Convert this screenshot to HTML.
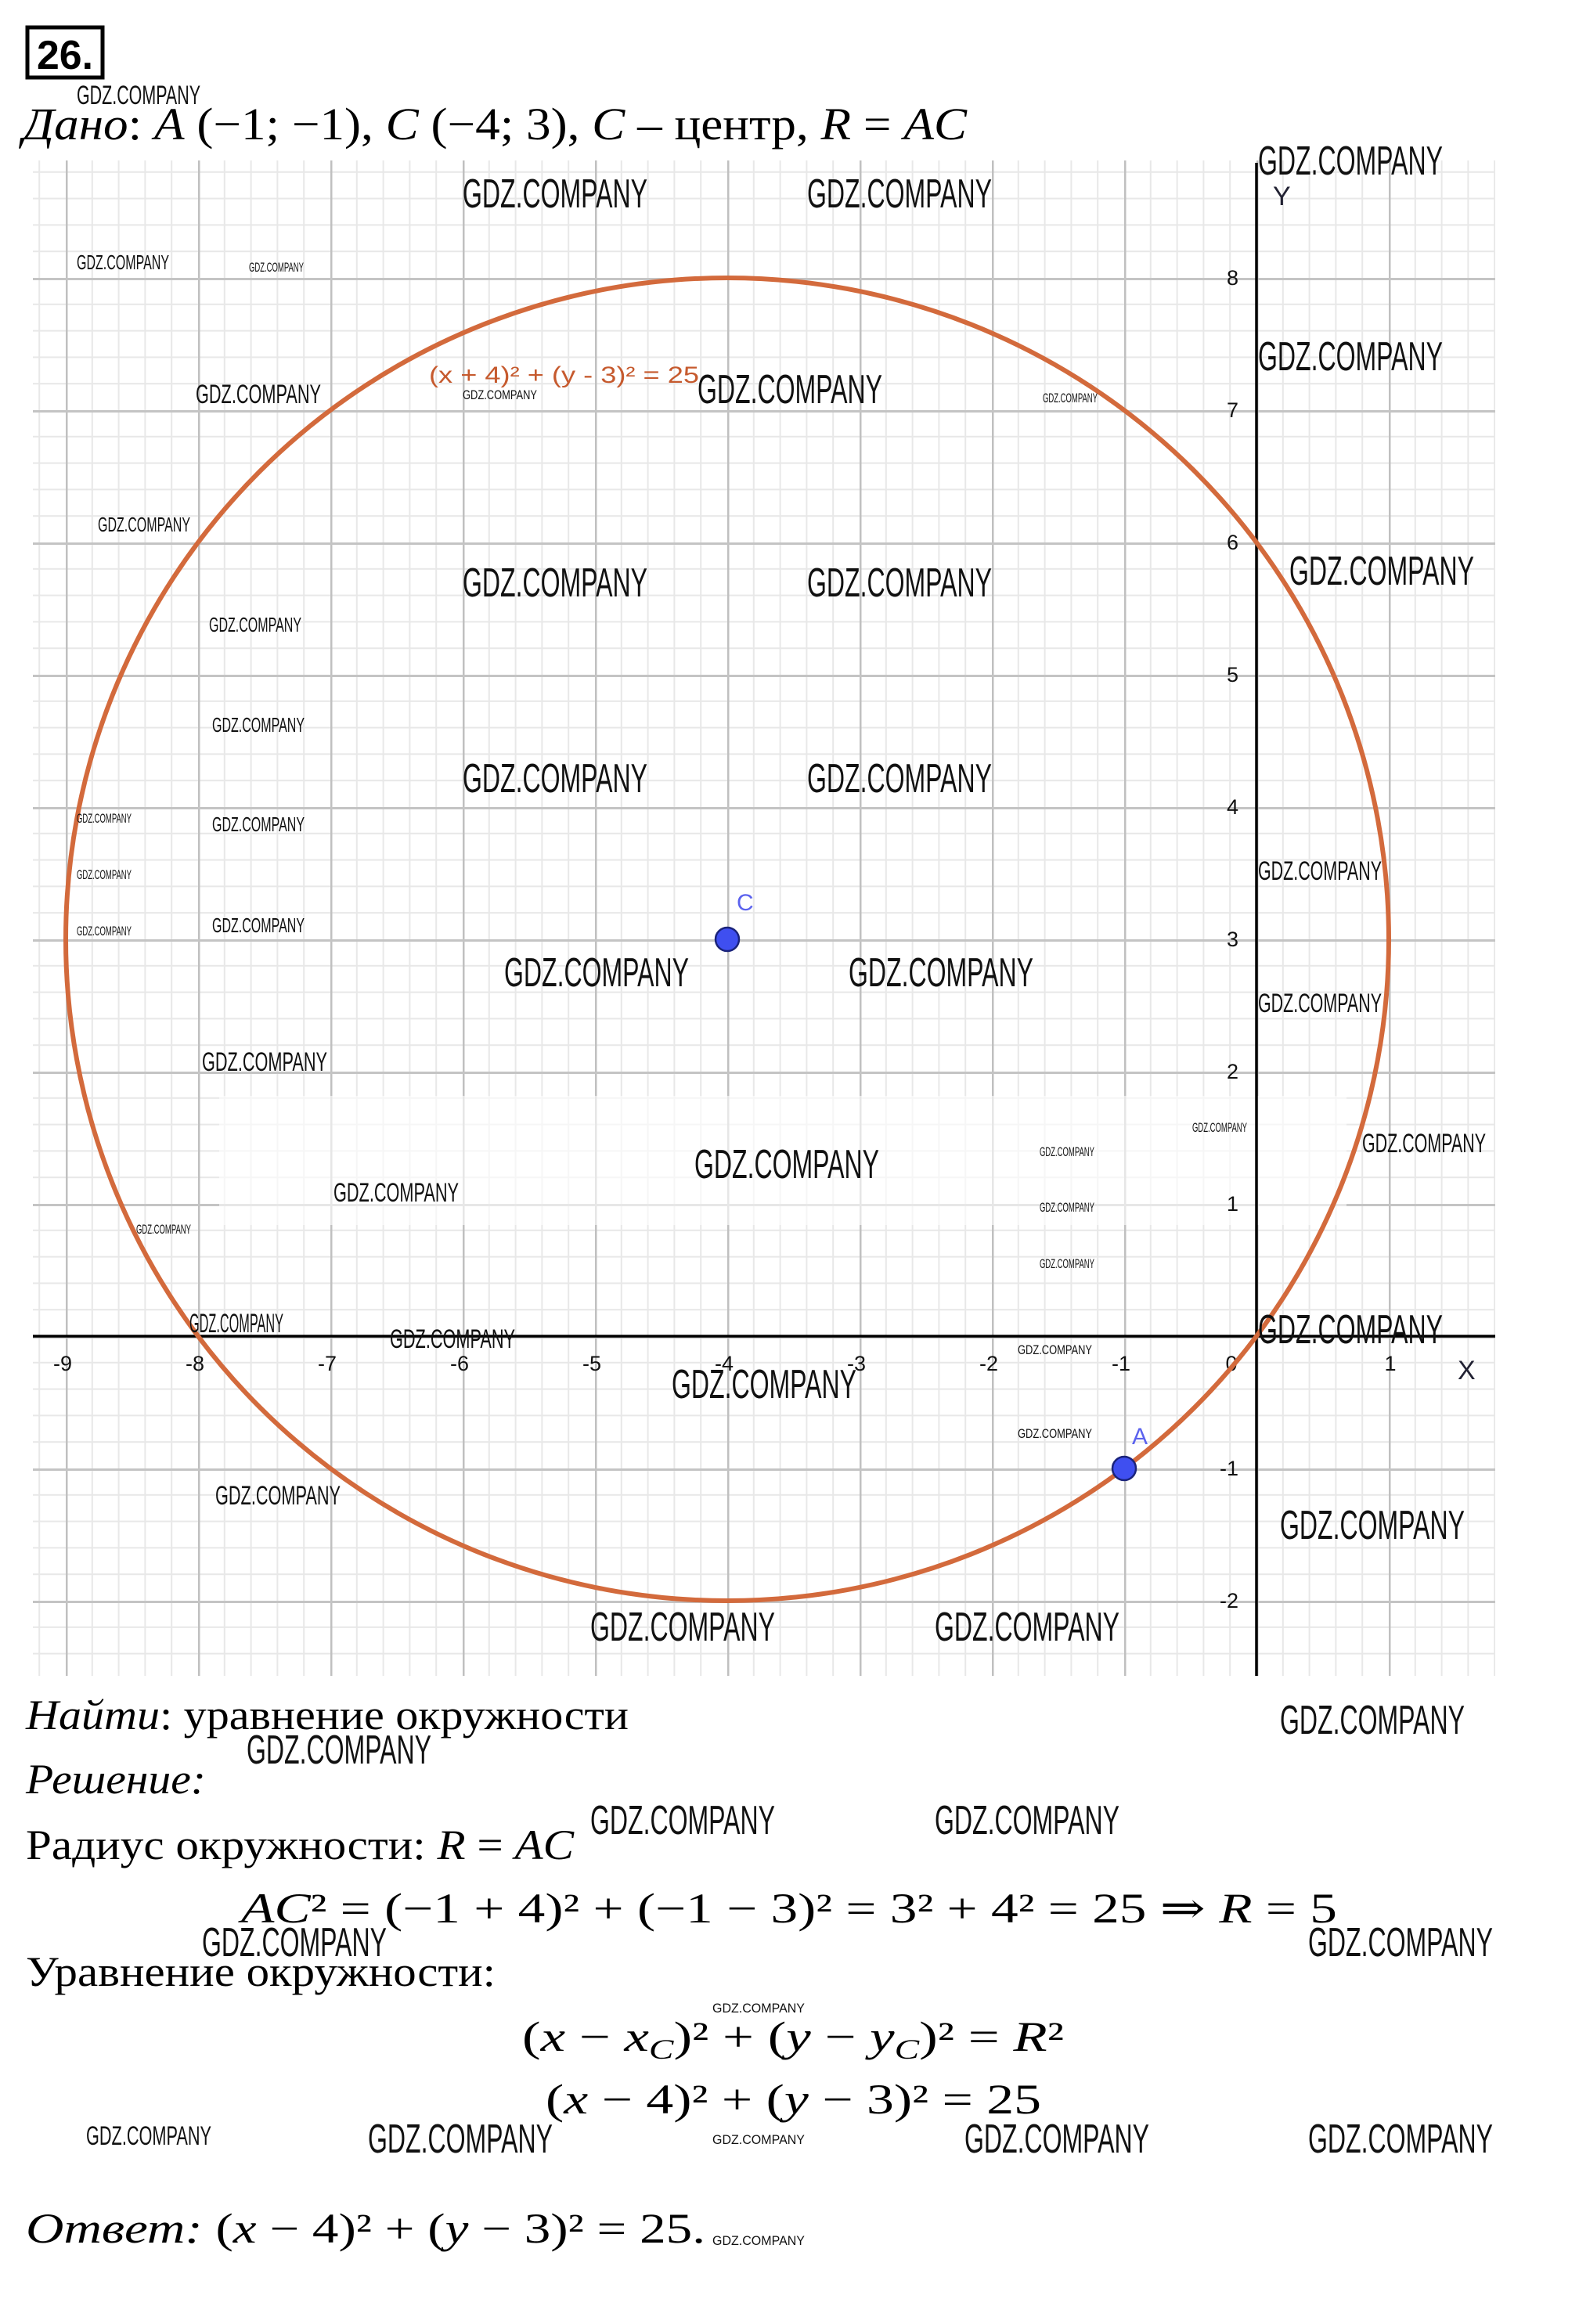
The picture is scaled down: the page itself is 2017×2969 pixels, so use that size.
<!DOCTYPE html>
<html><head><meta charset="utf-8"><style>
html,body{margin:0;padding:0;background:#fff;}
svg{display:block}
.wm{font-family:"Liberation Sans",sans-serif;fill:#111;}
.t{font-family:"Liberation Serif","DejaVu Serif",serif;fill:#000;}
.tk{font-family:"Liberation Sans",sans-serif;font-size:27px;fill:#111;}
</style></head><body>
<svg width="2017" height="2969" viewBox="0 0 2017 2969" xmlns="http://www.w3.org/2000/svg">
<defs>
<pattern id="g" x="1605" y="1707" width="169" height="169" patternUnits="userSpaceOnUse">
<rect x="0" y="0" width="169" height="169" fill="#fff"/>
<g fill="#e8e8e8">
<rect x="32.8" y="0" width="2" height="169"/><rect x="66.6" y="0" width="2" height="169"/><rect x="100.4" y="0" width="2" height="169"/><rect x="134.2" y="0" width="2" height="169"/>
<rect y="32.8" x="0" height="2" width="169"/><rect y="66.6" x="0" height="2" width="169"/><rect y="100.4" x="0" height="2" width="169"/><rect y="134.2" x="0" height="2" width="169"/>
</g>
<rect x="0" y="0" width="2.5" height="169" fill="#c0c0c0"/>
<rect x="0" y="0" width="169" height="3" fill="#c4c4c4"/>
</pattern>
</defs>
<rect x="42" y="205" width="1868" height="1936" fill="url(#g)"/>
<rect x="280" y="1400" width="1440" height="165" fill="#fff" opacity="0.6"/>
<line x1="1605" y1="208" x2="1605" y2="2141" stroke="#000" stroke-width="3.5"/>
<line x1="42" y1="1707" x2="1910" y2="1707" stroke="#000" stroke-width="3.5"/>
<g class="tk" text-anchor="middle">
<text x="80" y="1751">-9</text><text x="249" y="1751">-8</text><text x="418" y="1751">-7</text><text x="587" y="1751">-6</text><text x="756" y="1751">-5</text><text x="925" y="1751">-4</text><text x="1094" y="1751">-3</text><text x="1263" y="1751">-2</text><text x="1432" y="1751">-1</text><text x="1573" y="1751">0</text><text x="1776" y="1751">1</text>
</g>
<g class="tk" text-anchor="end">
<text x="1582" y="364">8</text><text x="1582" y="533">7</text><text x="1582" y="702">6</text><text x="1582" y="871">5</text><text x="1582" y="1040">4</text><text x="1582" y="1209">3</text><text x="1582" y="1378">2</text><text x="1582" y="1547">1</text><text x="1582" y="1885">-1</text><text x="1582" y="2054">-2</text>
</g>
<text x="1626" y="262" font-family="Liberation Sans,sans-serif" font-size="34" fill="#223">Y</text>
<text x="1862" y="1762" font-family="Liberation Sans,sans-serif" font-size="34" fill="#223">X</text>
<circle cx="929" cy="1200" r="845" fill="none" stroke="#d36a3c" stroke-width="6"/>
<text x="548" y="489" font-family="Liberation Sans,sans-serif" font-size="30" fill="#c65a2e" textLength="345" lengthAdjust="spacingAndGlyphs">(x + 4)² + (y - 3)² = 25</text>
<circle cx="929" cy="1200" r="15" fill="#3f4ff0" stroke="#1a237a" stroke-width="2.5"/>
<text x="941" y="1163" font-family="Liberation Sans,sans-serif" font-size="30" fill="#5b62ee">C</text>
<circle cx="1436" cy="1876" r="15" fill="#3f4ff0" stroke="#1a237a" stroke-width="2.5"/>
<text x="1446" y="1845" font-family="Liberation Sans,sans-serif" font-size="30" fill="#5b62ee">A</text>
<rect x="35" y="35" width="96" height="64" fill="none" stroke="#000" stroke-width="5"/>
<text x="47" y="88" font-family="Liberation Sans,sans-serif" font-weight="bold" font-size="52" textLength="72" lengthAdjust="spacingAndGlyphs">26.</text>
<text class="t" x="29" y="178" font-size="58" textLength="1206" lengthAdjust="spacingAndGlyphs"><tspan font-style="italic">Дано</tspan>: <tspan font-style="italic">A</tspan> (−1; −1), <tspan font-style="italic">C</tspan> (−4; 3),  <tspan font-style="italic">C</tspan> – центр, <tspan font-style="italic">R</tspan> = <tspan font-style="italic">AC</tspan></text>
<text class="t" x="33" y="2209" font-size="54" textLength="770" lengthAdjust="spacingAndGlyphs"><tspan font-style="italic">Найти</tspan>: уравнение окружности</text>
<text class="t" x="33" y="2291" font-size="54" font-style="italic" textLength="230" lengthAdjust="spacingAndGlyphs">Решение:</text>
<text class="t" x="33" y="2375" font-size="54" textLength="700" lengthAdjust="spacingAndGlyphs">Радиус окружности: <tspan font-style="italic">R</tspan> = <tspan font-style="italic">AC</tspan></text>
<text class="t" x="308" y="2456" font-size="54" textLength="1400" lengthAdjust="spacingAndGlyphs"><tspan font-style="italic">AC</tspan>² = (−1 + 4)² + (−1 − 3)² = 3² + 4² = 25 ⇒ <tspan font-style="italic">R</tspan> = 5</text>
<text class="t" x="33" y="2537" font-size="54" textLength="600" lengthAdjust="spacingAndGlyphs">Уравнение окружности:</text>
<text class="t" x="667" y="2620" font-size="54" textLength="692" lengthAdjust="spacingAndGlyphs">(<tspan font-style="italic">x</tspan> − <tspan font-style="italic">x</tspan><tspan font-style="italic" font-size="36" dy="10">C</tspan><tspan dy="-10">)² + (</tspan><tspan font-style="italic">y</tspan> − <tspan font-style="italic">y</tspan><tspan font-style="italic" font-size="36" dy="10">C</tspan><tspan dy="-10">)² = </tspan><tspan font-style="italic">R</tspan>²</text>
<text class="t" x="697" y="2700" font-size="54" textLength="633" lengthAdjust="spacingAndGlyphs">(<tspan font-style="italic">x</tspan> − 4)² + (<tspan font-style="italic">y</tspan> − 3)² = 25</text>
<text class="t" x="33" y="2865" font-size="54" textLength="868" lengthAdjust="spacingAndGlyphs"><tspan font-style="italic">Ответ:</tspan> (<tspan font-style="italic">x</tspan> − 4)² + (<tspan font-style="italic">y</tspan> − 3)² = 25.</text>
<g class="wm" font-size="52">
<text x="591" y="265" textLength="236" lengthAdjust="spacingAndGlyphs">GDZ.COMPANY</text>
<text x="1031" y="265" textLength="236" lengthAdjust="spacingAndGlyphs">GDZ.COMPANY</text>
<text x="1607" y="223" textLength="236" lengthAdjust="spacingAndGlyphs">GDZ.COMPANY</text>
<text x="891" y="515" textLength="236" lengthAdjust="spacingAndGlyphs">GDZ.COMPANY</text>
<text x="1607" y="473" textLength="236" lengthAdjust="spacingAndGlyphs">GDZ.COMPANY</text>
<text x="591" y="762" textLength="236" lengthAdjust="spacingAndGlyphs">GDZ.COMPANY</text>
<text x="1031" y="762" textLength="236" lengthAdjust="spacingAndGlyphs">GDZ.COMPANY</text>
<text x="1647" y="747" textLength="236" lengthAdjust="spacingAndGlyphs">GDZ.COMPANY</text>
<text x="591" y="1012" textLength="236" lengthAdjust="spacingAndGlyphs">GDZ.COMPANY</text>
<text x="1031" y="1012" textLength="236" lengthAdjust="spacingAndGlyphs">GDZ.COMPANY</text>
<text x="644" y="1260" textLength="236" lengthAdjust="spacingAndGlyphs">GDZ.COMPANY</text>
<text x="1084" y="1260" textLength="236" lengthAdjust="spacingAndGlyphs">GDZ.COMPANY</text>
<text x="887" y="1505" textLength="236" lengthAdjust="spacingAndGlyphs">GDZ.COMPANY</text>
<text x="1607" y="1716" textLength="236" lengthAdjust="spacingAndGlyphs">GDZ.COMPANY</text>
<text x="858" y="1786" textLength="236" lengthAdjust="spacingAndGlyphs">GDZ.COMPANY</text>
<text x="1635" y="1966" textLength="236" lengthAdjust="spacingAndGlyphs">GDZ.COMPANY</text>
<text x="754" y="2096" textLength="236" lengthAdjust="spacingAndGlyphs">GDZ.COMPANY</text>
<text x="1194" y="2096" textLength="236" lengthAdjust="spacingAndGlyphs">GDZ.COMPANY</text>
<text x="1635" y="2215" textLength="236" lengthAdjust="spacingAndGlyphs">GDZ.COMPANY</text>
<text x="315" y="2253" textLength="236" lengthAdjust="spacingAndGlyphs">GDZ.COMPANY</text>
<text x="754" y="2343" textLength="236" lengthAdjust="spacingAndGlyphs">GDZ.COMPANY</text>
<text x="1194" y="2343" textLength="236" lengthAdjust="spacingAndGlyphs">GDZ.COMPANY</text>
<text x="258" y="2499" textLength="236" lengthAdjust="spacingAndGlyphs">GDZ.COMPANY</text>
<text x="1671" y="2499" textLength="236" lengthAdjust="spacingAndGlyphs">GDZ.COMPANY</text>
<text x="470" y="2750" textLength="236" lengthAdjust="spacingAndGlyphs">GDZ.COMPANY</text>
<text x="1232" y="2750" textLength="236" lengthAdjust="spacingAndGlyphs">GDZ.COMPANY</text>
<text x="1671" y="2750" textLength="236" lengthAdjust="spacingAndGlyphs">GDZ.COMPANY</text>
</g>
<g class="wm" font-size="34">
<text x="250" y="515" textLength="160" lengthAdjust="spacingAndGlyphs">GDZ.COMPANY</text>
<text x="258" y="1368" textLength="160" lengthAdjust="spacingAndGlyphs">GDZ.COMPANY</text>
<text x="426" y="1535" textLength="160" lengthAdjust="spacingAndGlyphs">GDZ.COMPANY</text>
<text x="1607" y="1124" textLength="158" lengthAdjust="spacingAndGlyphs">GDZ.COMPANY</text>
<text x="1607" y="1293" textLength="158" lengthAdjust="spacingAndGlyphs">GDZ.COMPANY</text>
<text x="1740" y="1472" textLength="158" lengthAdjust="spacingAndGlyphs">GDZ.COMPANY</text>
<text x="275" y="1922" textLength="160" lengthAdjust="spacingAndGlyphs">GDZ.COMPANY</text>
<text x="110" y="2740" textLength="160" lengthAdjust="spacingAndGlyphs">GDZ.COMPANY</text>
<text x="498" y="1722" textLength="160" lengthAdjust="spacingAndGlyphs">GDZ.COMPANY</text>
<text x="242" y="1702" textLength="120" lengthAdjust="spacingAndGlyphs">GDZ.COMPANY</text>
<text x="98" y="133" textLength="158" lengthAdjust="spacingAndGlyphs">GDZ.COMPANY</text>
</g>
<g class="wm" font-size="26">
<text x="98" y="344" textLength="118" lengthAdjust="spacingAndGlyphs">GDZ.COMPANY</text>
<text x="125" y="679" textLength="118" lengthAdjust="spacingAndGlyphs">GDZ.COMPANY</text>
<text x="267" y="807" textLength="118" lengthAdjust="spacingAndGlyphs">GDZ.COMPANY</text>
<text x="271" y="935" textLength="118" lengthAdjust="spacingAndGlyphs">GDZ.COMPANY</text>
<text x="271" y="1062" textLength="118" lengthAdjust="spacingAndGlyphs">GDZ.COMPANY</text>
<text x="271" y="1191" textLength="118" lengthAdjust="spacingAndGlyphs">GDZ.COMPANY</text>
</g>
<g class="wm" font-size="17">
<text x="318" y="347" textLength="70" lengthAdjust="spacingAndGlyphs">GDZ.COMPANY</text>
<text x="591" y="510" textLength="95" lengthAdjust="spacingAndGlyphs">GDZ.COMPANY</text>
<text x="1332" y="514" textLength="70" lengthAdjust="spacingAndGlyphs">GDZ.COMPANY</text>
<text x="1328" y="1477" textLength="70" lengthAdjust="spacingAndGlyphs">GDZ.COMPANY</text>
<text x="1328" y="1548" textLength="70" lengthAdjust="spacingAndGlyphs">GDZ.COMPANY</text>
<text x="1328" y="1620" textLength="70" lengthAdjust="spacingAndGlyphs">GDZ.COMPANY</text>
<text x="1523" y="1446" textLength="70" lengthAdjust="spacingAndGlyphs">GDZ.COMPANY</text>
<text x="1300" y="1730" textLength="95" lengthAdjust="spacingAndGlyphs">GDZ.COMPANY</text>
<text x="1300" y="1837" textLength="95" lengthAdjust="spacingAndGlyphs">GDZ.COMPANY</text>
<text x="174" y="1576" textLength="70" lengthAdjust="spacingAndGlyphs">GDZ.COMPANY</text>
<text x="98" y="1051" textLength="70" lengthAdjust="spacingAndGlyphs">GDZ.COMPANY</text>
<text x="98" y="1123" textLength="70" lengthAdjust="spacingAndGlyphs">GDZ.COMPANY</text>
<text x="98" y="1195" textLength="70" lengthAdjust="spacingAndGlyphs">GDZ.COMPANY</text>
<text x="910" y="2571" textLength="118" lengthAdjust="spacingAndGlyphs">GDZ.COMPANY</text>
<text x="910" y="2739" textLength="118" lengthAdjust="spacingAndGlyphs">GDZ.COMPANY</text>
<text x="910" y="2868" textLength="118" lengthAdjust="spacingAndGlyphs">GDZ.COMPANY</text>
</g>
</svg>
</body></html>
